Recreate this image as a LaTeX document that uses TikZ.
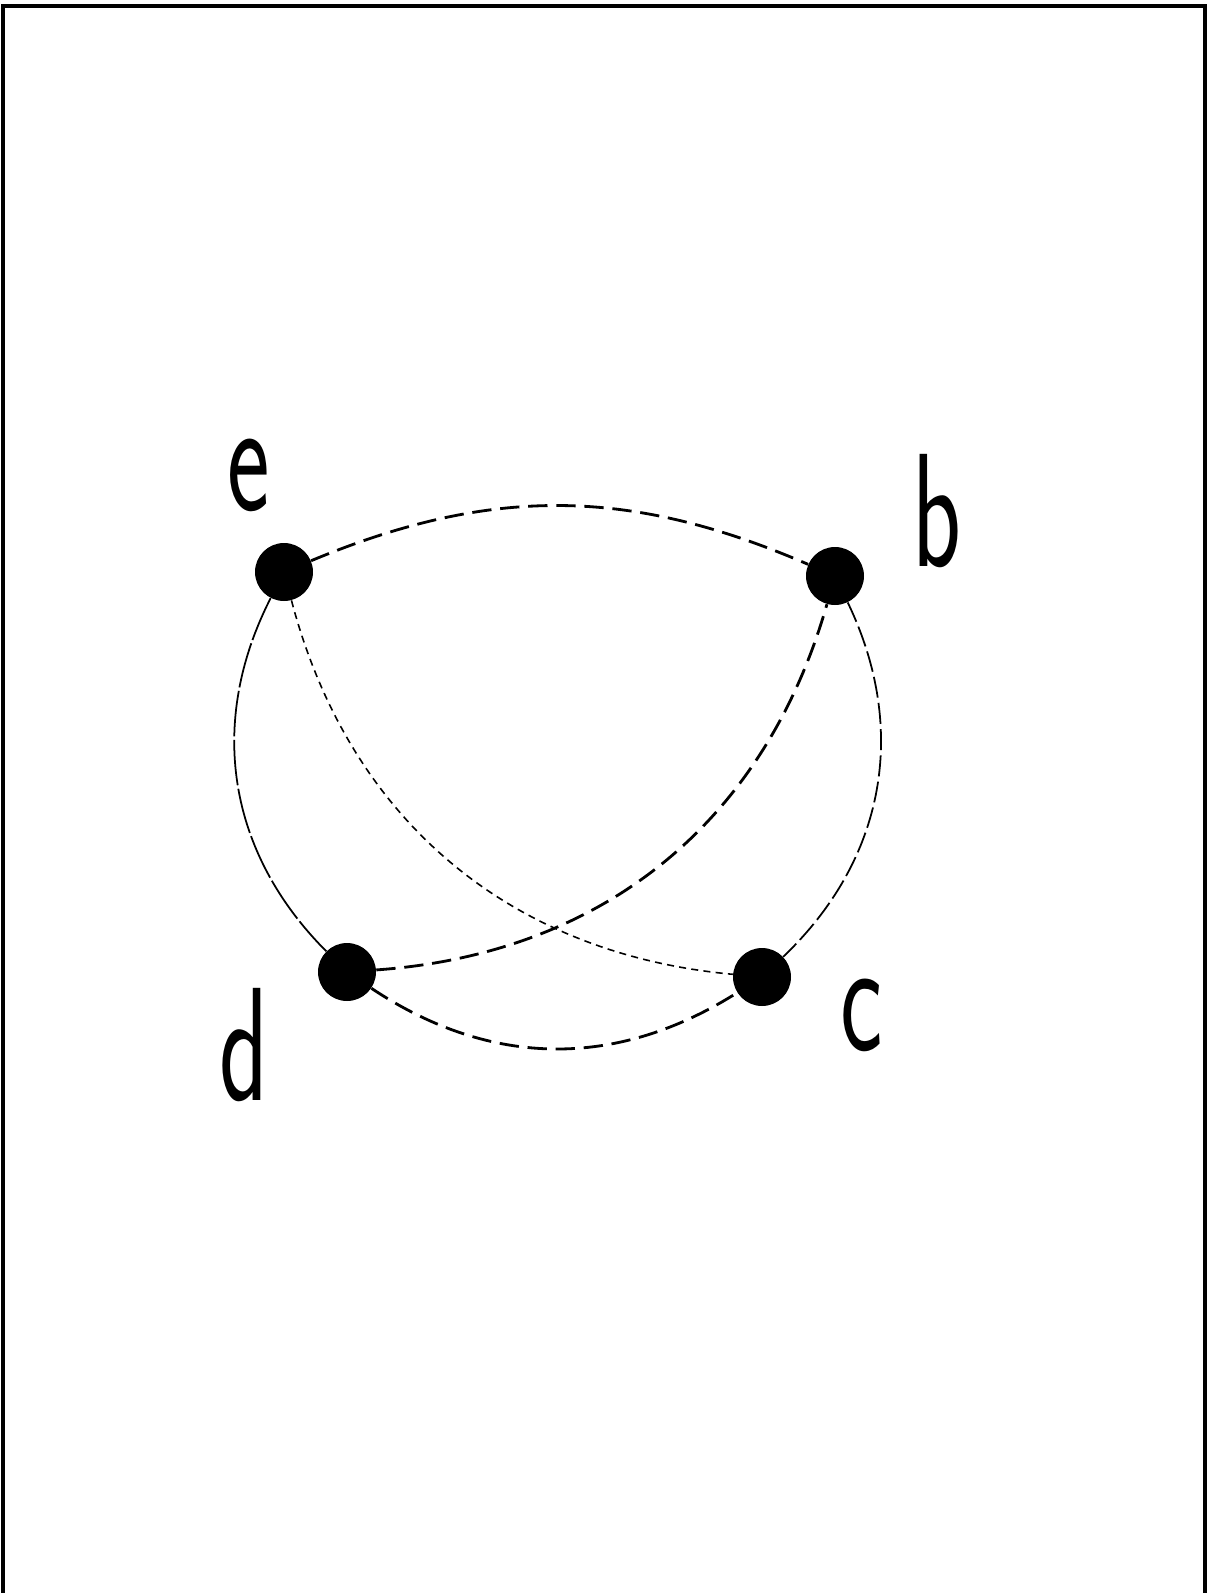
\documentclass[tikz,border=0pt]{standalone}
\usepackage{tikz}
\usetikzlibrary{positioning,calc}
\tikzset{
  vertex/.style={circle, fill=black, inner sep=0pt, minimum size=1.16cm},
  lbl/.style={font=\sffamily\fontsize{80}{80}\selectfont, xscale=0.72, yscale=1.15, inner sep=0pt},
}

\begin{document}
\begin{tikzpicture}[
  x=0.02cm, y=-0.02cm,
  longdash/.style={line width=1.6pt, dash pattern=on 11pt off 5pt},
  shortdash/.style={line width=0.9pt, dash pattern=on 4pt off 3pt},
  thin line/.style={line width=1pt, dash pattern=on 26pt off 2pt},
  finedash/.style={line width=1pt, dash pattern=on 12pt off 3pt}
]
\useasboundingbox (0,0) rectangle (1209,1593);
\draw[line width=2.5pt] (3,1593) -- (3,6) -- (1205,6) -- (1205,1593);

\node[vertex] (e) at (284,572) {};
\node[vertex] (b) at (835,576) {};
\node[vertex] (d) at (347,972) {};
\node[vertex] (c) at (762,977) {};

\node[lbl] (le) at (249,475) {e};
\node[lbl] (lb) at (937,511) {b};
\node[lbl] (ld) at (244,1045) {d};
\node[lbl] (lc) at (862,1015) {c};

\path
(e) edge[longdash, bend left=23] (b)
(d) edge[longdash, bend right=33] (c)
(d) edge[longdash, bend right=35] (b)
(e) edge[shortdash, bend right=35] (c)
(e) edge[thin line, bend right=36] (d)
(b) edge[finedash, bend left=36] (c);

\end{tikzpicture}
\end{document}
